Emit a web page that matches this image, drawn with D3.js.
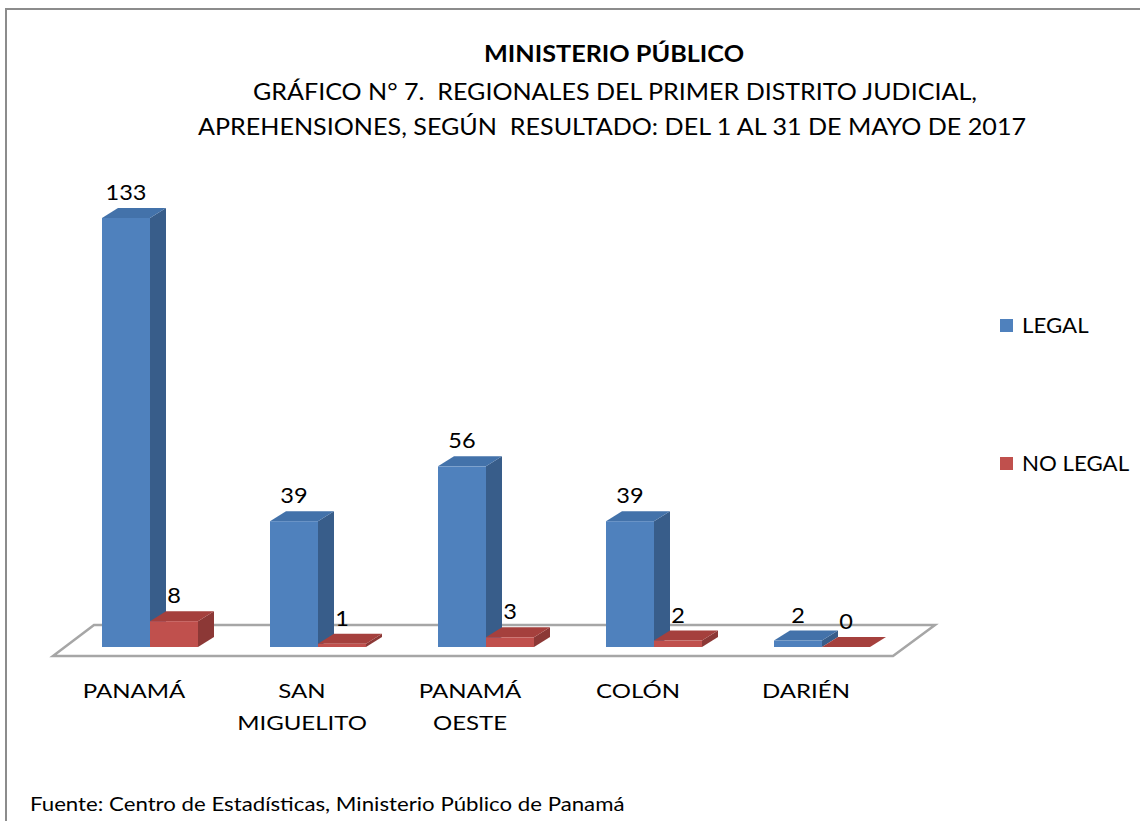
<!DOCTYPE html>
<html><head><meta charset="utf-8">
<script src="https://cdn.jsdelivr.net/npm/d3@7"></script>
<style>body{margin:0;background:#fff}svg{display:block}text{font-family:Lato,"Open Sans",sans-serif;fill:#000;white-space:pre}</style>
</head><body><svg id="c" width="1140" height="821"></svg>
<script>
const categories = [["PANAMÁ"],["SAN","MIGUELITO"],["PANAMÁ","OESTE"],["COLÓN"],["DARIÉN"]];
const catKeys = ["PANAMÁ","SAN MIGUELITO","PANAMÁ OESTE","COLÓN","DARIÉN"];
const seriesNames = ["LEGAL","NO LEGAL"];
const legalValues = [133,39,56,39,2];
const noLegalValues = [8,1,3,2,0];
const titleText = "MINISTERIO PÚBLICO";
const subtitleLines = ["GRÁFICO N° 7.  REGIONALES DEL PRIMER DISTRITO JUDICIAL,",
                       "APREHENSIONES, SEGÚN  RESULTADO: DEL 1 AL 31 DE MAYO DE 2017"];
const sourceText = "Fuente: Centro de Estadísticas, Ministerio Público de Panamá";

const colors = {
  "LEGAL": {front:"#4F81BD", top:"#4372AA", side:"#385D8A"},
  "NO LEGAL": {front:"#C0504D", top:"#A5403D", side:"#8C3836"}
};

const svg = d3.select("#c");
// stretch text horizontally (reference text is wider than the available fonts)
function stretch(sel, k){
  sel.each(function(){
    const L = this.getComputedTextLength();
    d3.select(this).attr("textLength", L*k).attr("lengthAdjust","spacingAndGlyphs");
  });
  return sel;
}
function fitTo(sel, w){
  sel.attr("textLength", w).attr("lengthAdjust","spacingAndGlyphs");
  return sel;
}

// outer border
svg.append("rect").attr("x",6).attr("y",9).attr("width",1150).attr("height",830)
  .attr("fill","none").attr("stroke","#8c8c8c").attr("stroke-width",2);

// titles
fitTo(svg.append("text").attr("x",614).attr("y",62).attr("text-anchor","middle")
  .attr("font-size",23.5).attr("font-weight","bold").text(titleText), 260);
fitTo(svg.append("text").attr("x",615).attr("y",100).attr("text-anchor","middle")
  .attr("font-size",23.5).text(subtitleLines[0]), 724);
fitTo(svg.append("text").attr("x",612).attr("y",135).attr("text-anchor","middle")
  .attr("font-size",23.5).text(subtitleLines[1]), 828);

const dx = 16, dy = -10;
const x0 = d3.scaleBand().domain(catKeys).range([60,912]).paddingInner(72/168).paddingOuter(0.25);
const x1 = d3.scaleBand().domain(seriesNames).range([0,x0.bandwidth()]);
const y = d3.scaleLinear().domain([0,133]).range([647,218]);

// floor
const fl = [[53,656],[893,656],[935,625],[94,625]];
svg.append("path").attr("d","M"+fl.map(p=>p.join(",")).join("L")+"Z")
  .attr("fill","#fff").attr("stroke","#a6a6a6").attr("stroke-width",2.5);

const data = [];
catKeys.forEach((c,i)=>{
  data.push({cat:c, s:"LEGAL", v:legalValues[i]});
  data.push({cat:c, s:"NO LEGAL", v:noLegalValues[i]});
});

const g = svg.append("g");
data.forEach(d=>{
  const xl = x0(d.cat)+x1(d.s), w = x1.bandwidth();
  const yt = y(d.v), yb = y(0);
  const col = colors[d.s];
  g.append("path").attr("d",`M${xl+w},${yb}L${xl+w+dx},${yb+dy}L${xl+w+dx},${yt+dy}L${xl+w},${yt}Z`).attr("fill",col.side);
  g.append("path").attr("d",`M${xl},${yt}L${xl+dx},${yt+dy}L${xl+w+dx},${yt+dy}L${xl+w},${yt}Z`).attr("fill",col.top);
  g.append("rect").attr("x",xl).attr("y",yt).attr("width",w).attr("height",yb-yt).attr("fill",col.front);
  stretch(svg.append("text").attr("x",xl+w/2).attr("y",yt-18).attr("text-anchor","middle")
    .attr("font-size",21).text(d.v), 1.12);
});

// category labels
catKeys.forEach((c,i)=>{
  const cx = x0(c)+x0.bandwidth()/2-16;
  categories[i].forEach((line,j)=>{
    stretch(svg.append("text").attr("x",cx).attr("y",698+j*32).attr("text-anchor","middle")
      .attr("font-size",20).text(line), 1.2);
  });
});

// legend
seriesNames.forEach((s,i)=>{
  const ly = 325 + i*138;
  svg.append("rect").attr("x",1000).attr("y",ly-6).attr("width",13).attr("height",13).attr("fill",colors[s].front);
  stretch(svg.append("text").attr("x",1022).attr("y",ly+8).attr("font-size",21).text(s), 1.06);
});

// footer
stretch(svg.append("text").attr("x",30).attr("y",811).attr("font-size",19)
  .text(sourceText), 1.17);
</script></body></html>
